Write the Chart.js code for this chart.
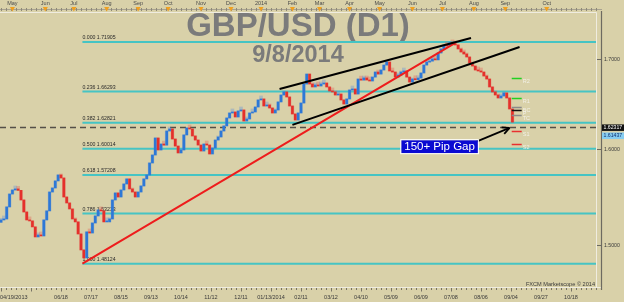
<!DOCTYPE html>
<html>
<head>
<meta charset="utf-8">
<title>GBP/USD (D1)</title>
<script src="https://cdn.jsdelivr.net/npm/chart.js"></script>
<style>
  html, body { margin: 0; padding: 0; background: #d9d1a9; }
</style>
</head>
<body>
<canvas id="gbpusd" width="624" height="302"></canvas>
<script>
// one bar every 2 trading days, 04/19/2013 -> 09/08/2014 (day index 0 = 04/19/2013)
var barStep = 2;
var firstOpen = 1.5230;
var closes = [
  1.5254, 1.5264, 1.5388, 1.5522, 1.5564, 1.5575, 1.5560, 1.5460, 1.5336, 1.5254,
  1.5244, 1.5183, 1.5081, 1.5101, 1.5091, 1.5254, 1.5347, 1.5543, 1.5585, 1.5659,
  1.5722, 1.5690, 1.5491, 1.5429, 1.5367, 1.5264, 1.5234, 1.5111, 1.4950, 1.4870,
  1.5132, 1.5121, 1.5223, 1.5295, 1.5357, 1.5347, 1.5234, 1.5234, 1.5264, 1.5460,
  1.5533, 1.5491, 1.5564, 1.5627, 1.5680, 1.5575, 1.5543, 1.5491, 1.5543, 1.5606,
  1.5680, 1.5722, 1.5849, 1.5934, 1.6117, 1.5988, 1.6052, 1.6040, 1.6193, 1.6215,
  1.6106, 1.6030, 1.5956, 1.5988, 1.6150, 1.6226, 1.6215, 1.6139, 1.6095, 1.6041,
  1.5977, 1.6052, 1.6041, 1.5945, 1.6009, 1.6095, 1.6128, 1.6193, 1.6248, 1.6335,
  1.6390, 1.6401, 1.6346, 1.6412, 1.6423, 1.6302, 1.6324, 1.6390, 1.6401, 1.6456,
  1.6534, 1.6545, 1.6467, 1.6478, 1.6445, 1.6390, 1.6423, 1.6512, 1.6589, 1.6623,
  1.6567, 1.6467, 1.6379, 1.6313, 1.6390, 1.6500, 1.6712, 1.6824, 1.6712, 1.6679,
  1.6701, 1.6690, 1.6712, 1.6723, 1.6679, 1.6634, 1.6623, 1.6589, 1.6600, 1.6534,
  1.6489, 1.6545, 1.6645, 1.6656, 1.6600, 1.6768, 1.6756, 1.6780, 1.6757, 1.6746,
  1.6790, 1.6847, 1.6824, 1.6870, 1.6926, 1.6960, 1.6859, 1.6847, 1.6790, 1.6813,
  1.6847, 1.6859, 1.6790, 1.6734, 1.6768, 1.6760, 1.6779, 1.6836, 1.6926, 1.6960,
  1.6971, 1.6995, 1.6985, 1.7064, 1.7110, 1.7156, 1.7144, 1.7179, 1.7168, 1.7156,
  1.7110, 1.7075, 1.7052, 1.7018, 1.6949, 1.6915, 1.6870, 1.6859, 1.6847, 1.6802,
  1.6768, 1.6679, 1.6623, 1.6589, 1.6556, 1.6578, 1.6612, 1.6556, 1.6434, 1.6290
];

var fibRatios = [0, 0.236, 0.382, 0.5, 0.618, 0.786, 1];
var fibPrices = [1.71905, 1.66293, 1.62821, 1.60014, 1.57208, 1.53213, 1.48124];
var fibStartDay = 57;

var gapLevel = 1.62317;
var lastPrice = 1.61437;

var pivotNames = ['R2', 'R1', 'BC', 'P', 'TC', 'S1', 'S2'];
var pivotLevels = [1.6776, 1.6553, 1.6460, 1.6423, 1.6368, 1.6193, 1.6052];
var pivotColors = ['#22d022', '#22d022', '#8a8a8a', '#111111', '#8a8a8a', '#e83030', '#e83030'];
var pivotDays = [357.5, 364.5];

// trend lines as [day, price]
var redLine = [[57, 1.48124], [318, 1.7179]];
var channelTop = [[195, 1.6656], [329, 1.7237]];
var channelBottom = [[204, 1.6259], [363, 1.7133]];
var gapArrow = [[332, 1.6073], [356, 1.6226]];
var gapNote = { text: '150+ Pip Gap', day: 307, price: 1.6023 };

var monthLabels = ['May', 'Jun', 'Jul', 'Aug', 'Sep', 'Oct', 'Nov', 'Dec', '2014', 'Feb', 'Mar', 'Apr', 'May', 'Jun', 'Jul', 'Aug', 'Sep', 'Oct'];
var monthDays = [8, 31, 51, 74, 96, 117, 140, 161, 182, 204, 223, 244, 265, 288, 309, 331, 353, 382];
var dateLabels = ['04/19/2013', '06/18', '07/17', '08/15', '09/13', '10/14', '11/12', '12/11', '01/13/2014', '02/11', '03/12', '04/10', '05/09', '06/09', '07/08', '08/06', '09/04', '09/27', '10/18'];
var dateDays = [0, 42, 63, 84, 105, 126, 147, 168, 189, 210, 231, 252, 273, 294, 315, 336, 357, 378, 399];
var priceTicks = [1.7, 1.6, 1.5];

var BG = '#d9d1a9';
var FONT = '"Liberation Sans", Arial, sans-serif';

// build floating bars: body from previous close to close
var candles = [];
var candleColors = [];
var haloColors = [];
closes.forEach(function (c, k) {
  var o = k === 0 ? firstOpen : closes[k - 1];
  candles.push({ x: k * barStep, y: [o, c] });
  candleColors.push(c >= o ? '#2d78d6' : '#e4302b');
  haloColors.push(c >= o ? 'rgba(90,140,220,0.35)' : 'rgba(230,90,80,0.35)');
});

function line(ctx, x1, y1, x2, y2, color, width, dash) {
  ctx.save();
  ctx.strokeStyle = color;
  ctx.lineWidth = width;
  ctx.setLineDash(dash || []);
  ctx.beginPath();
  ctx.moveTo(x1, y1);
  ctx.lineTo(x2, y2);
  ctx.stroke();
  ctx.restore();
}

var overlay = {
  id: 'overlay',
  beforeDraw: function (chart) {
    var ctx = chart.ctx;
    ctx.save();
    ctx.fillStyle = BG;
    ctx.fillRect(0, 0, chart.width, chart.height);
    ctx.restore();
  },
  beforeDatasetsDraw: function (chart) {
    var ctx = chart.ctx, a = chart.chartArea;
    var X = function (v) { return chart.scales.x.getPixelForValue(v); };
    var Y = function (v) { return chart.scales.y.getPixelForValue(v); };

    // title
    ctx.save();
    ctx.fillStyle = '#7b7b7b';
    ctx.textAlign = 'center';
    ctx.textBaseline = 'alphabetic';
    ctx.font = 'bold 33px ' + FONT;
    ctx.fillText('GBP/USD (D1)', 298, 36);
    ctx.font = 'bold 23.5px ' + FONT;
    ctx.fillText('9/8/2014', 298, 61.5);
    ctx.restore();

    // fibonacci levels
    ctx.save();
    ctx.font = '5.2px ' + FONT;
    ctx.fillStyle = '#2a2a2a';
    ctx.textBaseline = 'bottom';
    fibPrices.forEach(function (p, i) {
      var y = Y(p);
      line(ctx, X(fibStartDay), y, a.right, y, '#46c4c4', 2);
      ctx.fillText(fibRatios[i].toFixed(3) + ' ' + p.toFixed(5), X(fibStartDay), y - 1.5);
    });
    ctx.restore();

    // gap level
    var gy = Math.round(Y(gapLevel)) + 0.5;
    line(ctx, a.left, gy, a.right, gy, '#555048', 1.6, [6, 4]);
  },
  afterDatasetsDraw: function (chart) {
    var ctx = chart.ctx, a = chart.chartArea;
    var X = function (v) { return chart.scales.x.getPixelForValue(v); };
    var Y = function (v) { return chart.scales.y.getPixelForValue(v); };
    function seg(pts, color, w) {
      line(ctx, X(pts[0][0]), Y(pts[0][1]), X(pts[1][0]), Y(pts[1][1]), color, w);
    }

    seg(redLine, '#ee1c1c', 2);
    seg(channelTop, '#000000', 2);
    seg(channelBottom, '#000000', 2);

    // pivot levels
    ctx.save();
    ctx.font = '5.5px ' + FONT;
    ctx.textBaseline = 'top';
    pivotLevels.forEach(function (p, i) {
      var y = Math.round(Y(p)) + 0.5;
      line(ctx, X(pivotDays[0]), y, X(pivotDays[1]), y, pivotColors[i], 1.5);
      ctx.fillStyle = '#f2f0e6';
      ctx.fillText(pivotNames[i], X(pivotDays[1]) + 1, y + 0.5);
    });
    ctx.restore();

    // gap arrow
    var x1 = X(gapArrow[0][0]), y1 = Y(gapArrow[0][1]);
    var x2 = X(gapArrow[1][0]), y2 = Y(gapArrow[1][1]);
    line(ctx, x1, y1, x2, y2, '#000', 1.8);
    var ang = Math.atan2(y2 - y1, x2 - x1);
    [0.45, -0.45].forEach(function (d) {
      line(ctx, x2, y2, x2 - 8 * Math.cos(ang + d), y2 - 8 * Math.sin(ang + d), '#000', 1.8);
    });

    // gap note
    ctx.save();
    ctx.font = '11.5px ' + FONT;
    var tw = ctx.measureText(gapNote.text).width;
    var cx = X(gapNote.day), cy = Y(gapNote.price);
    ctx.fillStyle = '#0a0ad2';
    ctx.fillRect(cx - tw / 2 - 3, cy - 6.5, tw + 6, 13);
    ctx.strokeStyle = '#ffffff';
    ctx.lineWidth = 1;
    ctx.strokeRect(cx - tw / 2 - 3.5, cy - 7, tw + 7, 14);
    ctx.fillStyle = '#ffffff';
    ctx.textAlign = 'center';
    ctx.textBaseline = 'middle';
    ctx.fillText(gapNote.text, cx, cy + 0.5);
    ctx.restore();

    // plot border
    line(ctx, a.left, a.top - 0.5, a.right + 0.5, a.top - 0.5, '#efece0', 1);
    line(ctx, a.right + 0.5, a.top - 0.5, a.right + 0.5, a.bottom, '#efece0', 1);
    line(ctx, a.left, a.bottom + 0.5, a.right + 6, a.bottom + 0.5, '#efece0', 1);

    // top month strip
    ctx.save();
    line(ctx, 0, 9.5, a.right + 6, 9.5, '#a8a290', 1);
    for (var d = 0; d < 417; d += 3.5) {
      var tx = Math.round(X(d)) + 0.5;
      line(ctx, tx, 8, tx, 11, '#8d8878', 1);
    }
    ctx.font = '5.5px ' + FONT;
    ctx.textAlign = 'center';
    ctx.textBaseline = 'middle';
    monthDays.forEach(function (m, i) {
      var mx = X(m);
      ctx.fillStyle = '#f0a020';
      ctx.beginPath();
      ctx.moveTo(mx - 2.5, 7);
      ctx.lineTo(mx + 2.5, 7);
      ctx.lineTo(mx, 11.5);
      ctx.closePath();
      ctx.fill();
      ctx.fillStyle = '#4a4a4a';
      ctx.fillText(monthLabels[i], mx, 3.5);
    });
    ctx.restore();

    // bottom date axis
    ctx.save();
    for (var b = 0; b < 417; b += 3.5) {
      var bx = Math.round(X(b)) + 0.5;
      var major = Math.abs(b / 21 - Math.round(b / 21)) < 0.01;
      line(ctx, bx, a.bottom + 1, bx, a.bottom + (major ? 4.5 : 3), '#777265', 1);
    }
    ctx.font = '5.5px ' + FONT;
    ctx.fillStyle = '#3a3a3a';
    ctx.textBaseline = 'middle';
    dateDays.forEach(function (d, i) {
      ctx.textAlign = i === 0 ? 'left' : 'center';
      ctx.fillText(dateLabels[i], i === 0 ? 0 : X(d), 297.5);
    });
    ctx.restore();

    // right price axis
    ctx.save();
    var ax = a.right + 6;
    line(ctx, ax - 0.5, a.top - 2, ax - 0.5, a.bottom + 3, '#6d6a60', 1.2);
    ctx.font = '5.2px ' + FONT;
    ctx.textBaseline = 'middle';
    ctx.fillStyle = '#3a3a3a';
    priceTicks.forEach(function (p) {
      var py = Math.round(Y(p)) + 0.5;
      line(ctx, ax - 5, py, ax, py, '#6d6a60', 1);
      ctx.fillText(p.toFixed(4), ax + 2, py);
    });
    var gyy = Y(gapLevel);
    ctx.fillStyle = '#111111';
    ctx.fillRect(ax, gyy - 3, 22, 6.5);
    ctx.fillStyle = '#ffffff';
    ctx.fillText(gapLevel.toFixed(5), ax + 1.5, gyy + 0.3);
    var ly = Y(lastPrice);
    ctx.fillStyle = '#86cdf0';
    ctx.fillRect(ax, ly - 3, 22, 6.5);
    ctx.fillStyle = '#103070';
    ctx.fillText(lastPrice.toFixed(5), ax + 1.5, ly + 0.3);
    ctx.restore();

    // watermark
    ctx.save();
    ctx.font = '5.6px ' + FONT;
    ctx.fillStyle = '#3a3a3a';
    ctx.textAlign = 'right';
    ctx.textBaseline = 'middle';
    ctx.fillText('FXCM Marketscope \u00a9 2014', a.right - 1, 284.5);
    ctx.restore();
  }
};

var chart = new Chart(document.getElementById('gbpusd'), {
  type: 'bar',
  data: {
    datasets: [{
      data: candles,
      backgroundColor: candleColors,
      borderWidth: 0,
      barThickness: 2,
      minBarLength: 1,
      grouped: false,
      order: 1
    }, {
      data: candles,
      backgroundColor: haloColors,
      borderWidth: 0,
      barThickness: 3,
      minBarLength: 4,
      grouped: false,
      order: 2
    }]
  },
  options: {
    responsive: false,
    animation: false,
    layout: { padding: { left: 0, right: 28, top: 13, bottom: 15 } },
    plugins: { legend: { display: false }, tooltip: { enabled: false } },
    scales: {
      x: { type: 'linear', min: -0.7, max: 416.5, offset: false, bounds: 'data', display: false },
      y: { type: 'logarithmic', min: 1.45823, max: 1.7528, bounds: 'data', beginAtZero: false, display: false }
    }
  },
  plugins: [overlay]
});
</script>
</body>
</html>
